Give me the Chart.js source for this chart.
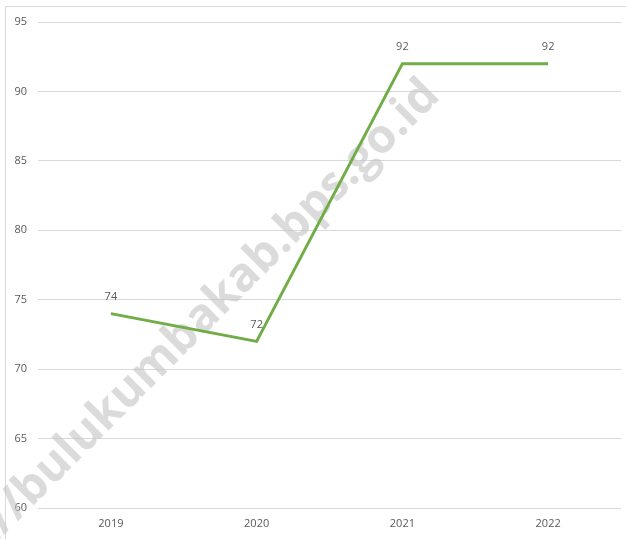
<!DOCTYPE html>
<html>
<head>
<meta charset="utf-8">
<script src="https://cdn.jsdelivr.net/npm/chart.js@4.4.0/dist/chart.umd.min.js"></script>
<style>
  html, body { margin: 0; padding: 0; background: #fff; }
  #wrap { width: 626px; height: 539px; }
</style>
</head>
<body>
<div id="wrap"><canvas id="chart"></canvas></div>
<script>
const years = ['2019', '2020', '2021', '2022'];
const values = [74, 72, 92, 92];
const yTicks = [60, 65, 70, 75, 80, 85, 90, 95];

// frame around the chart (only top and left edges show in the picture)
const framePlugin = {
  id: 'frame',
  beforeDraw(chart) {
    const c = chart.ctx;
    c.save();
    c.strokeStyle = '#d9d9d9';
    c.lineWidth = 1;
    c.beginPath();
    c.moveTo(5.5, 539);
    c.lineTo(5.5, 6.5);
    c.lineTo(626, 6.5);
    c.stroke();
    c.restore();
  }
};

// watermark behind the line
const watermark = {
  id: 'watermark',
  beforeDatasetsDraw(chart) {
    const c = chart.ctx;
    c.save();
    c.translate(432, 88);
    c.rotate(-Math.PI / 4);
    c.font = 'bold 47px "Open Sans"';
    c.fillStyle = 'rgba(195,195,195,0.6)';
    c.textAlign = 'right';
    c.textBaseline = 'middle';
    c.fillText('https://bulukumbakab.bps.go.id', 0, 0);
    c.restore();
  }
};

// value labels above each point
const valueLabels = {
  id: 'valueLabels',
  afterDatasetsDraw(chart) {
    const c = chart.ctx;
    const meta = chart.getDatasetMeta(0);
    c.save();
    c.font = '11px "Open Sans"';
    c.fillStyle = '#595959';
    c.textAlign = 'center';
    c.textBaseline = 'middle';
    meta.data.forEach((pt, i) => {
      c.fillText(values[i], pt.x, pt.y - 17);
    });
    c.restore();
  }
};

new Chart(document.getElementById('chart'), {
  type: 'line',
  data: {
    labels: years,
    datasets: [{
      data: values,
      borderColor: '#70ad47',
      borderWidth: 3,
      pointRadius: 0,
      tension: 0,
      fill: false
    }]
  },
  options: {
    responsive: true,
    maintainAspectRatio: false,
    animation: false,
    layout: { padding: { top: 22, right: 5, bottom: 0, left: 0 } },
    plugins: {
      legend: { display: false },
      tooltip: { enabled: false }
    },
    scales: {
      x: {
        offset: true,
        grid: { display: false, drawTicks: false },
        border: { display: false },
        ticks: {
          color: '#595959',
          font: { family: 'Open Sans', size: 11 },
          padding: 9,
          maxRotation: 0
        },
        afterFit(scale) { scale.height = 31; }
      },
      y: {
        min: 60,
        max: 95,
        afterBuildTicks(scale) {
          scale.ticks = yTicks.map(v => ({ value: v }));
        },
        grid: { color: '#d9d9d9', lineWidth: 1, drawTicks: false },
        border: { display: false },
        ticks: {
          color: '#595959',
          font: { family: 'Open Sans', size: 11 },
          padding: 11
        },
        afterFit(scale) { scale.width = 38; }
      }
    }
  },
  plugins: [framePlugin, watermark, valueLabels]
});
</script>
</body>
</html>
